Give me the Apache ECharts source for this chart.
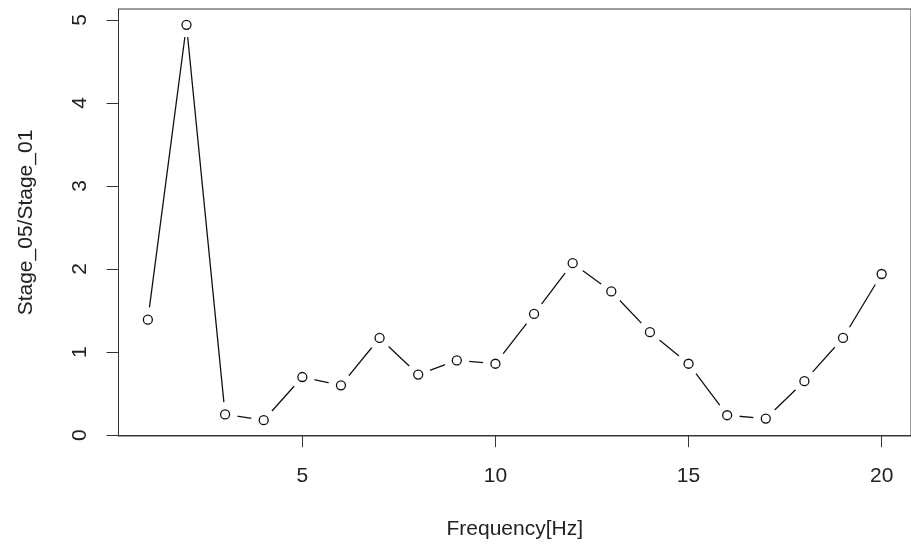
<!DOCTYPE html>
<html>
<head>
<meta charset="utf-8">
<script src="https://cdn.jsdelivr.net/npm/echarts@6/dist/echarts.min.js"></script>
<style>
    html, body { margin: 0; padding: 0; background: #fff; }
    #chart { width: 911px; height: 546px; }
</style>
</head>
<body>
<div id="chart"></div>
<script>
var freq = [1, 2, 3, 4, 5, 6, 7, 8, 9, 10, 11, 12, 13, 14, 15, 16, 17, 18, 19, 20];
var ratio = [1.39, 4.94, 0.25, 0.18, 0.70, 0.60, 1.17, 0.73, 0.90, 0.86,
             1.46, 2.07, 1.73, 1.24, 0.86, 0.24, 0.20, 0.65, 1.17, 1.94];
var xTicks = [5, 10, 15, 20];
var yTicks = [0, 1, 2, 3, 4, 5];

function drawChart() {
    var myChart = echarts.init(document.getElementById('chart'));
    var pts = freq.map(function (f, i) { return [f, ratio[i]]; });
    var font = "'Liberation Sans', Arial, sans-serif";

    option = {
        animation: false,
        textStyle: { fontFamily: font },
        grid: {
            left: 118.5,
            right: -2.5,
            top: 9,
            bottom: 110,
            show: true,
            borderColor: '#3a3a3a',
            borderWidth: 1
        },
        xAxis: {
            type: 'value',
            min: 0.24,
            max: 20.76,
            name: 'Frequency[Hz]',
            nameLocation: 'middle',
            nameGap: 83,
            nameTextStyle: { fontSize: 21, color: '#222', fontFamily: font },
            splitLine: { show: false },
            axisLine: { show: true, lineStyle: { color: '#333', width: 1 } },
            axisTick: { show: true, length: 12, customValues: xTicks, lineStyle: { color: '#333' } },
            axisLabel: { customValues: xTicks, margin: 30, fontSize: 21, color: '#222', fontFamily: font }
        },
        yAxis: {
            type: 'value',
            min: -0.01,
            max: 5.13,
            name: 'Stage_05/Stage_01',
            nameLocation: 'middle',
            nameGap: 82,
            nameTextStyle: { fontSize: 21, color: '#222', fontFamily: font },
            splitLine: { show: false },
            axisLine: { show: true, lineStyle: { color: '#333', width: 1 } },
            axisTick: { show: true, length: 12, customValues: yTicks, lineStyle: { color: '#333' } },
            axisLabel: { customValues: yTicks, rotate: 90, margin: 28, fontSize: 21, color: '#222', fontFamily: font }
        },
        series: [
            {
                type: 'line',
                data: pts,
                showSymbol: false,
                lineStyle: { color: '#111', width: 1.3 },
                z: 1
            },
            {
                // white discs that leave the gaps around each point
                type: 'scatter',
                data: pts,
                symbol: 'circle',
                symbolSize: 25,
                itemStyle: { color: '#fff', opacity: 1 },
                z: 2,
                silent: true
            },
            {
                type: 'scatter',
                data: pts,
                symbol: 'circle',
                symbolSize: 9,
                itemStyle: { color: '#fff', borderColor: '#111', borderWidth: 1.3, opacity: 1 },
                z: 3
            }
        ]
    };

    myChart.setOption(option);
}
drawChart();
</script>
</body>
</html>
